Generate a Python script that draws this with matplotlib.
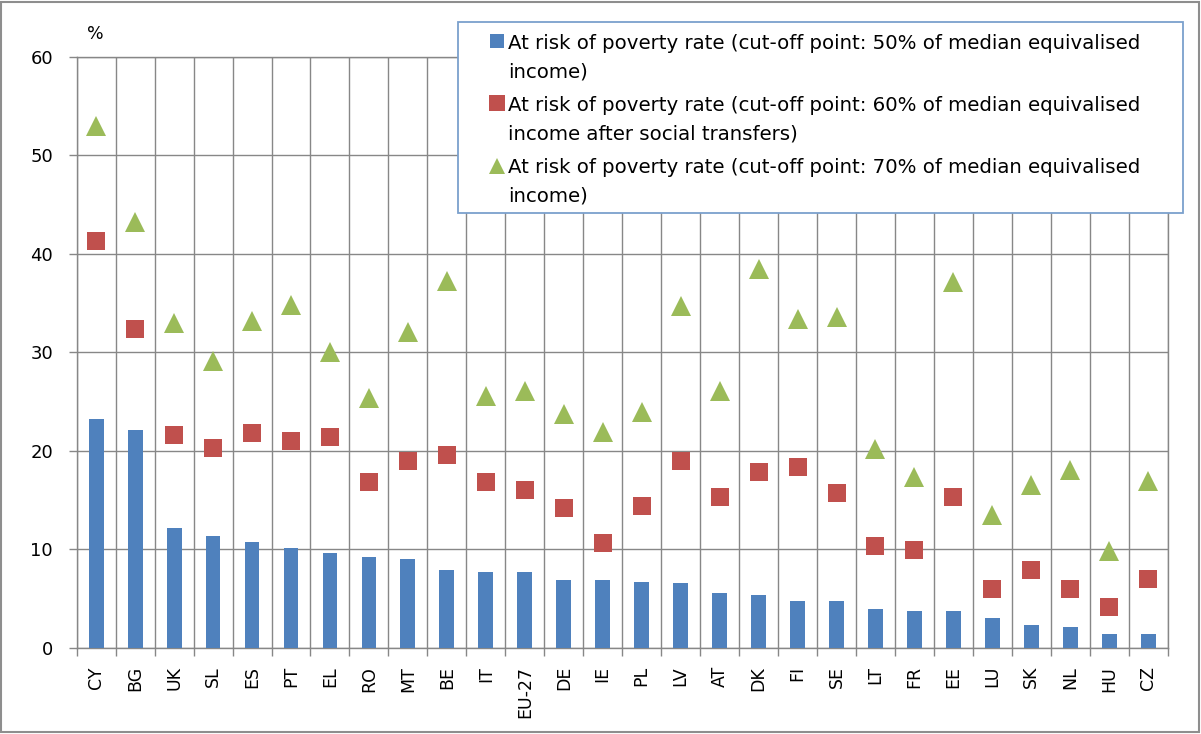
import matplotlib
matplotlib.use("Agg")
import matplotlib.pyplot as plt
from matplotlib.patches import Rectangle
from matplotlib.lines import Line2D
import numpy as np

categories = ["CY", "BG", "UK", "SL", "ES", "PT", "EL", "RO", "MT", "BE", "IT", "EU-27",
              "DE", "IE", "PL", "LV", "AT", "DK", "FI", "SE", "LT", "FR", "EE", "LU",
              "SK", "NL", "HU", "CZ"]
rate50 = [23.2, 22.1, 12.2, 11.4, 10.8, 10.1, 9.6, 9.2, 9.0, 7.9, 7.7, 7.7, 6.9, 6.9,
          6.7, 6.6, 5.6, 5.4, 4.8, 4.8, 4.0, 3.8, 3.8, 3.0, 2.3, 2.1, 1.4, 1.4]
rate60 = [41.3, 32.4, 21.6, 20.3, 21.8, 21.0, 21.4, 16.8, 19.0, 19.6, 16.8, 16.0, 14.2,
          10.7, 14.4, 19.0, 15.3, 17.9, 18.4, 15.7, 10.3, 9.9, 15.3, 6.0, 7.9, 6.0, 4.2, 7.0]
rate70 = [53.0, 43.2, 33.0, 29.1, 33.2, 34.8, 30.0, 25.4, 32.1, 37.2, 25.6, 26.1, 23.7,
          21.9, 23.9, 34.7, 26.1, 38.5, 33.4, 33.6, 20.2, 17.4, 37.1, 13.5, 16.5, 18.1,
          9.85, 16.9]
legend_labels = [
    "At risk of poverty rate (cut-off point: 50% of median equivalised\nincome)",
    "At risk of poverty rate (cut-off point: 60% of median equivalised\nincome after social transfers)",
    "At risk of poverty rate (cut-off point: 70% of median equivalised\nincome)",
]
yticks = [0, 10, 20, 30, 40, 50, 60]

BLUE = "#4F81BD"
RED = "#C0504D"
GREEN = "#9BBB59"
GRID = "#878787"

W, H = 1201, 734
fig = plt.figure(figsize=(W / 100, H / 100), dpi=100)
ax = fig.add_axes([76.7 / W, 1 - 648 / H, (1167.7 - 76.7) / W, (648 - 56.7) / H])

x = np.arange(len(categories))
ax.bar(x, rate50, width=0.38, color=BLUE, zorder=3)
ax.plot(x, rate60, linestyle="none", marker="s", markersize=12.5, color=RED,
        markeredgewidth=0, zorder=4)
ax.plot(x, rate70, linestyle="none", marker="^", markersize=14.5, color=GREEN,
        markeredgewidth=0, zorder=4)

ax.set_xlim(-0.5, len(categories) - 0.5)
ax.set_ylim(0, 60)
ax.set_yticks(yticks)
ax.set_yticklabels([str(v) for v in yticks], fontsize=13)
ax.set_xticks(x)
ax.set_xticklabels(categories, rotation=90, fontsize=12.5)
ax.set_xticks(np.arange(len(categories) + 1) - 0.5, minor=True)

ax.tick_params(axis="x", which="major", length=0, pad=13)
ax.tick_params(axis="x", which="minor", length=6, width=1, color=GRID, direction="out")
ax.tick_params(axis="y", which="major", length=6, width=1, color=GRID, pad=11)

ax.grid(True, axis="y", which="major", color=GRID, linewidth=1, zorder=0)
ax.grid(True, axis="x", which="minor", color=GRID, linewidth=1, zorder=0)
ax.set_axisbelow(True)
for s in ax.spines.values():
    s.set_color(GRID)
    s.set_linewidth(1)

fig.text(95 / W, 1 - 34 / H, "%", fontsize=12.5, ha="center", va="center")

# Legend box
lx0, ly_top, lx1, ly_bot = 458, 22, 1183, 213
fig.add_artist(Rectangle((lx0 / W, 1 - ly_bot / H), (lx1 - lx0) / W, (ly_bot - ly_top) / H,
                         transform=fig.transFigure, facecolor="white",
                         edgecolor="#7BA0CD", linewidth=1.3, zorder=5))
baselines = [(49, 77), (111, 139), (173, 201)]
marker_y = [41, 103, 166]
styles = [("s", 10, BLUE), ("s", 11, RED), ("^", 12, GREEN)]
for (b1, b2), my, (mk, ms, col), lab in zip(baselines, marker_y, styles, legend_labels):
    l1, l2 = lab.split("\n")
    fig.add_artist(Line2D([497 / W], [1 - my / H], marker=mk, markersize=ms, color=col,
                          markeredgewidth=0, linestyle="none",
                          transform=fig.transFigure, zorder=6))
    fig.text(508 / W, 1 - b1 / H, l1, fontsize=14.2, ha="left", va="baseline", zorder=6)
    fig.text(508 / W, 1 - b2 / H, l2, fontsize=14.2, ha="left", va="baseline", zorder=6)

# outer chart border
fig.add_artist(Rectangle((1 / W, 2 / H), (W - 3) / W, (H - 3.5) / H,
                         transform=fig.transFigure, fill=False,
                         edgecolor="#8E8E8E", linewidth=1.5, zorder=10))

fig.savefig("out.png", dpi=100)
